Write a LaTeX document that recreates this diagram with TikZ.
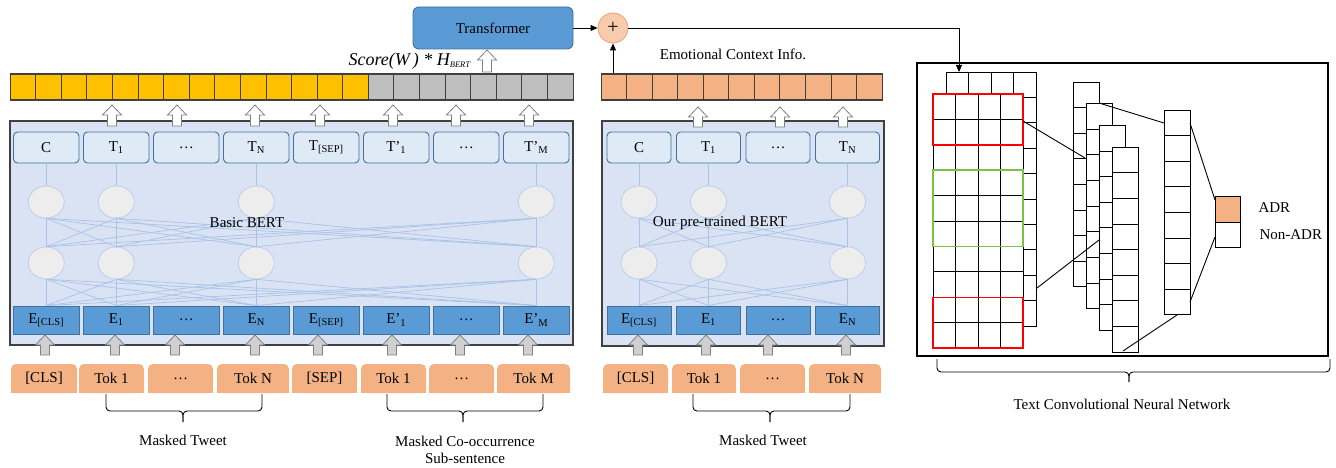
\documentclass[tikz,border=0pt]{standalone}
\usepackage{fontspec}
\setmainfont{Liberation Serif}
\usetikzlibrary{arrows.meta,shapes.geometric,calc}

\definecolor{eblue}{HTML}{5B9BD5}
\definecolor{eline}{HTML}{41719C}
\definecolor{tfill}{HTML}{DEEBF7}
\definecolor{bertbg}{HTML}{DAE3F3}
\definecolor{tokfill}{HTML}{F4B183}
\definecolor{gold}{HTML}{FFC000}
\definecolor{cellgray}{HTML}{BFBFBF}
\definecolor{wirec}{HTML}{A8C2E8}
\definecolor{neuronfill}{HTML}{EDEDED}
\definecolor{neuronline}{HTML}{B4C7E7}
\definecolor{plusfill}{HTML}{F8CBAD}
\definecolor{plusline}{HTML}{EDA57A}
\definecolor{outline}{HTML}{404040}
\definecolor{greenbox}{HTML}{7CC242}
\definecolor{hollowline}{HTML}{808080}
\definecolor{grayarrow}{HTML}{D0D0D0}

% block arrow pointing up: x, tail y, head y, style
\newcommand\hollowUp[4]{%
  \draw[#4] ({#1-4.5},#2) -- ({#1-4.5},{#3+10}) -- ({#1-9.5},{#3+10}) -- (#1,#3)
    -- ({#1+9.5},{#3+10}) -- ({#1+4.5},{#3+10}) -- ({#1+4.5},#2) -- cycle;}

% grouping bracket: left x, right x, tip x, top y, bar y, tip y
\newcommand\groupbrace[6]{%
  \draw[bracket] (#1,#4) -- (#1,#5) -- (#3,#5) -- (#3,#6);
  \draw[bracket] (#2,#4) -- (#2,#5) -- (#3,#5) -- (#3,#6);}

\begin{document}
\begin{tikzpicture}[x=1pt,y=-1pt,
  every node/.style={font=\fontsize{15}{17}\selectfont, text=black},
  tbox/.style={draw=eline, fill=tfill, line width=0.9pt, rounded corners=4pt, minimum height=31pt, inner sep=0pt},
  ebox/.style={draw=eline, fill=eblue, line width=0.9pt, minimum height=28pt, inner sep=0pt},
  tokbox/.style={fill=tokfill, rounded corners=5pt, minimum height=29pt, inner sep=0pt},
  neuron/.style={ellipse, draw=neuronline, fill=neuronfill, line width=0.6pt, minimum width=36pt, minimum height=32pt, inner sep=0pt},
  wire/.style={draw=wirec, line width=0.7pt},
  bertframe/.style={draw=outline, fill=bertbg, line width=1.3pt, inner sep=0pt},
  barcell/.style={draw=outline, line width=0.8pt},
  hollow/.style={draw=hollowline, fill=white, line width=0.8pt},
  grayup/.style={draw=hollowline, fill=grayarrow, line width=0.8pt},
  bracket/.style={draw=black, line width=0.9pt, rounded corners=4pt},
  cnncell/.style={draw=black, fill=white, line width=0.8pt},
  link/.style={draw=black, line width=0.9pt},
  flow/.style={draw=black, line width=0.9pt, -{Triangle[length=7pt,width=6pt]}}]

\fill[white] (0,0) rectangle (1336,468);
\useasboundingbox (0,0) rectangle (1336,468);

% ---------- Transformer and fusion ----------
\node[draw=eline, fill=eblue, line width=0.9pt, rounded corners=6pt, minimum width=160pt, minimum height=42pt, inner sep=0pt] (transformer) at (493,28) {Transformer};
\node[circle, draw=plusline, fill=plusfill, line width=0.9pt, minimum size=30pt, inner sep=0pt, font=\fontsize{20}{20}\selectfont] (plus) at (613,28) {+};

% ---------- feature bars ----------
\foreach \i in {0,...,13} {
  \draw[barcell, fill=gold] ({10+25.59*\i},74) rectangle +(25.59,26);
}
\foreach \i in {14,...,21} {
  \draw[barcell, fill=cellgray] ({10+25.59*\i},74) rectangle +(25.59,26);
}
\node[draw=outline, line width=1pt, minimum width=563pt, minimum height=26pt, inner sep=0pt] (bar1) at (291.5,87) {};

\foreach \i in {0,...,10} {
  \draw[barcell, fill=tokfill] ({601+25.55*\i},74) rectangle +(25.55,26);
}
\node[draw=outline, line width=1pt, minimum width=281pt, minimum height=26pt, inner sep=0pt] (bar2) at (741.5,87) {};

\node[anchor=west, font=\fontsize{18}{20}\selectfont\itshape] (score) at (345,61) {Score(W\,) * H\textsubscript{\fontsize{8.5}{9}\selectfont BERT}};
\node (emo) at (733,54) {Emotional Context Info.};

\hollowUp{487}{72}{50}{hollow}

\draw[flow] (transformer.east) -- (plus.west);
\draw[flow] (plus |- bar2.north) -- (plus.south);
\coordinate (cnnin) at (959,72);
\draw[flow] (plus.east) -| (cnnin);

% ---------- Basic BERT ----------
\node[bertframe, minimum width=563pt, minimum height=224pt] (bert1) at (291.5,233) {};

\foreach \i/\t in {0/{C},1/{T\textsubscript{1}},2/{\dots},3/{T\textsubscript{N}},4/{T\textsubscript{[SEP]}},5/{T’\textsubscript{1}},6/{\dots},7/{T’\textsubscript{M}}} {
  \node[tbox, minimum width=65.5pt] (bt\i) at ({46.25+70*\i},147.5) {\t};
}
\foreach \i/\t in {0/{E\textsubscript{[CLS]}},1/{E\textsubscript{1}},2/{\dots},3/{E\textsubscript{N}},4/{E\textsubscript{[SEP]}},5/{E’\textsubscript{1}},6/{\dots},7/{E’\textsubscript{M}}} {
  \node[ebox, minimum width=65.5pt] (be\i) at ({46.25+70*\i},320) {\t};
}
\foreach \i in {0,1,3,7} {
  \node[neuron] (bu\i) at ({46.25+70*\i},202) {};
  \node[neuron] (bl\i) at ({46.25+70*\i},263) {};
}
\foreach \a in {0,1,3,7} {
  \draw[wire] (bt\a.south) -- (bu\a.north);
  \foreach \b in {0,1,3,7} {
    \draw[wire] (bu\a.south) -- (bl\b.north);
    \draw[wire] (bl\a.south) -- (be\b.north);
  }
}
\node (basic) at (247,223) {Basic BERT};

\foreach \x in {112,177,255,320,393,456,529} {
  \hollowUp{\x}{126}{105}{hollow}
}
\foreach \x in {45,115,175,255,318,392,460,528} {
  \hollowUp{\x}{355}{335}{grayup}
}

% token row, first encoder
\foreach \a/\b/\t/\n in {11/77/{[CLS]}/k0,79/144/{Tok 1}/k1,148/213/{\dots}/k2,217/289/{Tok N}/k3,292/357/{[SEP]}/k4,361/426/{Tok 1}/k5,429/494/{\dots}/k6,497/570/{Tok M}/k7} {
  \fill[tokfill] (\a,380) rectangle (\b,393);
  \node[tokbox, minimum width={\b-\a}] (\n) at ({(\a+\b)/2},378.5) {\t};
}
\groupbrace{106}{262}{183}{394}{411}{422}
\groupbrace{387}{543}{463}{394}{411}{422}
\node (mt1) at (183,440) {Masked Tweet};
\node[align=center] (mco) at (465,449.5) {Masked Co-occurrence\\Sub-sentence};

% ---------- pre-trained BERT ----------
\node[bertframe, minimum width=282pt, minimum height=225pt] (bert2) at (743,233.5) {};
\foreach \i/\t in {0/{C},1/{T\textsubscript{1}},2/{\dots},3/{T\textsubscript{N}}} {
  \node[tbox, minimum width=64pt] (pt\i) at ({639+69.5*\i},147.5) {\t};
}
\foreach \i/\t in {0/{E\textsubscript{[CLS]}},1/{E\textsubscript{1}},2/{\dots},3/{E\textsubscript{N}}} {
  \node[ebox, minimum width=64pt] (pe\i) at ({639+69.5*\i},320) {\t};
}
\foreach \i in {0,1,3} {
  \node[neuron] (pu\i) at ({639+69.5*\i},202) {};
  \node[neuron] (pl\i) at ({639+69.5*\i},263) {};
}
\foreach \a in {0,1,3} {
  \draw[wire] (pt\a.south) -- (pu\a.north);
  \foreach \b in {0,1,3} {
    \draw[wire] (pu\a.south) -- (pl\b.north);
    \draw[wire] (pl\a.south) -- (pe\b.north);
  }
}
\node (ours) at (720,223) {Our pre-trained BERT};

\foreach \x in {698,780,843} {
  \hollowUp{\x}{127}{107}{hollow}
}
\foreach \x in {638,706,768,846} {
  \hollowUp{\x}{355}{335}{grayup}
}

\foreach \a/\b/\t/\n in {603/668/{[CLS]}/q0,672/736/{Tok 1}/q1,740/805/{\dots}/q2,809/881/{Tok N}/q3} {
  \fill[tokfill] (\a,380) rectangle (\b,393);
  \node[tokbox, minimum width={\b-\a}] (\n) at ({(\a+\b)/2},378.5) {\t};
}
\groupbrace{693}{850}{770}{394}{411}{422}
\node (mt2) at (763,440) {Masked Tweet};

% ---------- Text CNN ----------
\node[draw=black, line width=1.2pt, minimum width=411pt, minimum height=293pt, inner sep=0pt] (cnn) at (1122.5,209.5) {};

% embedding matrix (two channels)
\foreach \r in {0,...,9} {
  \foreach \c in {0,...,3} {
    \draw[cnncell] ({946+22.5*\c},{72+25.4*\r}) rectangle +(22.5,25.4);
  }
}
\foreach \r in {0,...,9} {
  \foreach \c in {0,...,3} {
    \draw[cnncell] ({933+22.5*\c},{94+25.4*\r}) rectangle +(22.5,25.4);
  }
}
\draw[red, line width=1.5pt] (933,94) rectangle (1023,144.8);
\draw[greenbox, line width=1.5pt] (933,170.2) rectangle (1023,246.4);
\draw[red, line width=1.5pt] (933,297.6) rectangle (1023,348);

% feature maps
\foreach \k in {0,...,3} {
  \foreach \r in {0,...,7} {
    \draw[cnncell] ({1073+13*\k},{82+21.7*\k+25.6*\r}) rectangle +(26,25.6);
  }
}

% pooled vector
\foreach \r in {0,...,7} {
  \draw[cnncell] (1164,{110+25.6*\r}) rectangle +(26,25.6);
}

% output
\draw[cnncell, fill=tokfill] (1215,196) rectangle (1240,222);
\draw[cnncell] (1215,222) rectangle (1240,247);

\draw[link] (1023,121) -- (1085,158);
\draw[link] (1037,288) -- (1099,240);
\draw[link] (1099,103) -- (1164,123);
\draw[link] (1123,351) -- (1177,315);
\draw[link] (1190,123) -- (1215,200);
\draw[link] (1190,302) -- (1215,237);

\node[anchor=west] (adr) at (1255,208) {ADR};
\node[anchor=west] (nonadr) at (1256,235) {Non-ADR};

\groupbrace{937}{1330}{1129}{359}{372}{382}
\node (cnnlabel) at (1122,404) {Text Convolutional Neural Network};

\end{tikzpicture}
\end{document}
